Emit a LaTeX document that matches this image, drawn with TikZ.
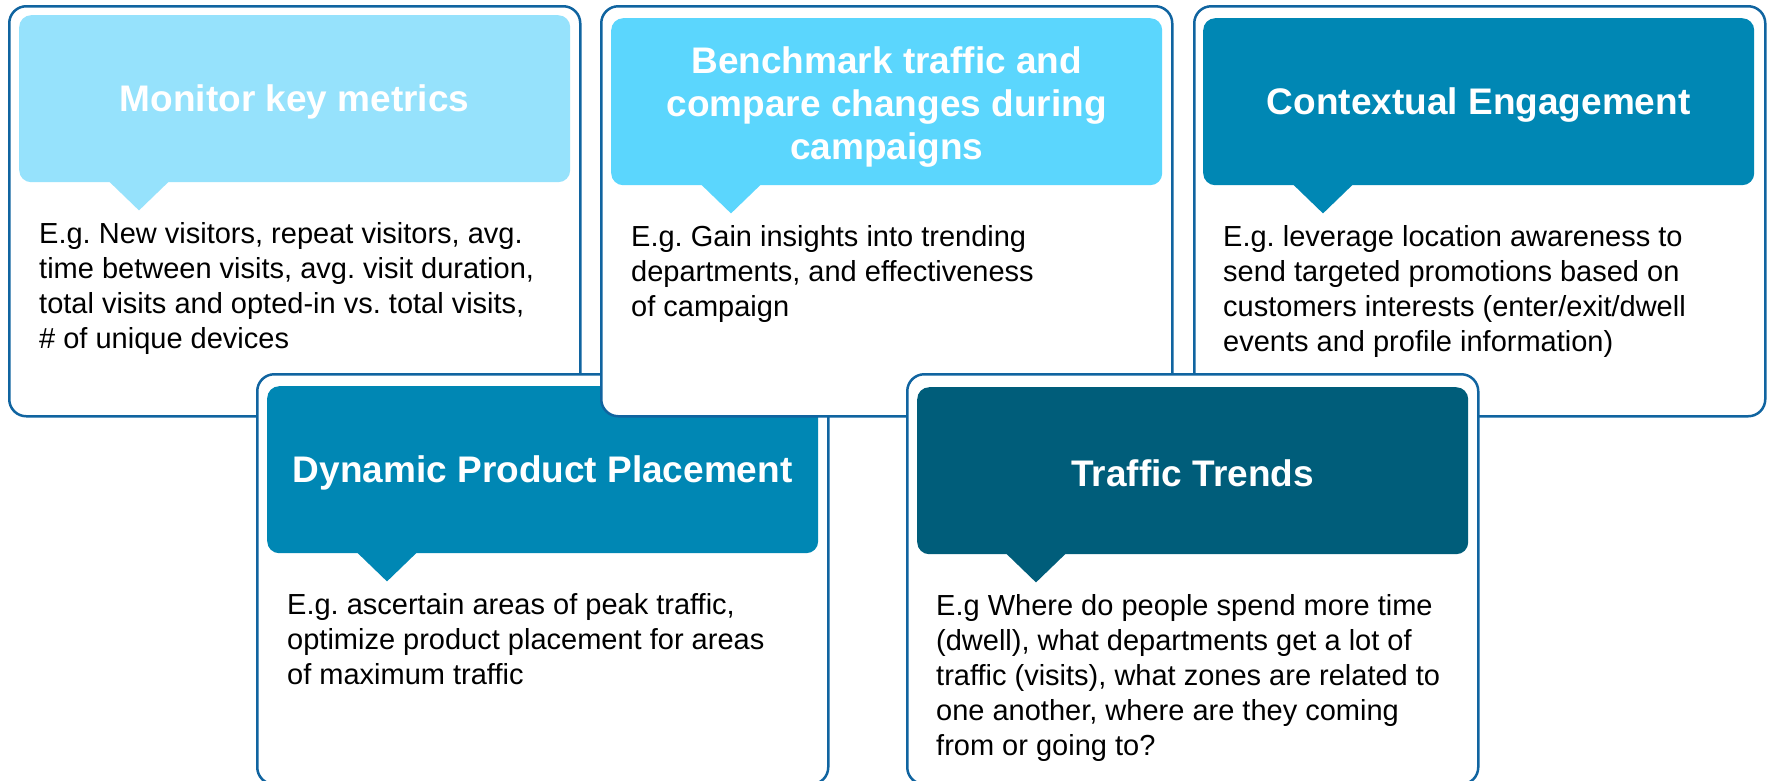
\documentclass[tikz,border=0pt]{standalone}
\usepackage{fontspec}
\setmainfont{Liberation Sans}
\frenchspacing
\definecolor{edgeblue}{RGB}{16,100,160}
\definecolor{skyA}{RGB}{150,226,252}
\definecolor{skyB}{RGB}{91,214,253}
\definecolor{tealC}{RGB}{0,135,180}
\definecolor{navyD}{RGB}{0,93,122}
\tikzset{
	card/.style={anchor=north west, draw=edgeblue, line width=2.5pt, fill=white,
		rounded corners=17pt, minimum width=571pt, minimum height=410pt, inner sep=0pt},
	head/.style={anchor=north west, rounded corners=12pt, minimum width=551pt,
		minimum height=167pt, inner sep=0pt},
	title/.style={inner sep=0pt, text=white, align=center,
		font=\bfseries\fontsize{37}{43}\selectfont},
	body/.style={anchor=north west, inner sep=0pt, align=left,
		font=\fontsize{29}{35}\selectfont},
}
\begin{document}
\begin{tikzpicture}[x=1pt, y=-1pt]
	\useasboundingbox (0,0) rectangle (1767,780);

	% monitor
	\node[card] (c1) at (8,5) {};
	\node[head, fill=skyA] (h1) at ([xshift=11pt,yshift=-10pt]c1.north west) {};
	\node[title] (t1) at ([yshift=-3pt]h1.center) {Monitor key metrics};
	\coordinate (p1) at ([xshift=120pt]h1.south west);
	\fill[skyA] (p1) ++(-30pt,1pt) -- ++(60pt,0) -- ++(-30pt,-29pt) -- cycle;
	\node[body] (b1) at ([xshift=20pt,yshift=-36.5pt]h1.south west)
		{\strut E.g. New visitors, repeat visitors, avg.\\time between visits, avg. visit duration,\\total visits and opted-in vs. total visits,\\\# of unique devices};

	% product placement
	\node[card] (c4) at (256,373) {};
	\node[head, fill=tealC] (h4) at ([xshift=11pt,yshift=-13pt]c4.north west) {};
	\node[title] (t4) at ([yshift=-3pt]h4.center) {Dynamic Product Placement};
	\coordinate (p4) at ([xshift=120pt]h4.south west);
	\fill[tealC] (p4) ++(-30pt,1pt) -- ++(60pt,0) -- ++(-30pt,-29pt) -- cycle;
	\node[body] (b4) at ([xshift=20pt,yshift=-36.5pt]h4.south west)
		{\strut E.g. ascertain areas of peak traffic,\\optimize product placement for areas\\of maximum traffic};

	% benchmark
	\node[card] (c2) at (600,5) {};
	\node[head, fill=skyB] (h2) at ([xshift=11pt,yshift=-13pt]c2.north west) {};
	\node[title] (t2) at ([yshift=-5pt]h2.center) {Benchmark traffic and\\compare changes during\\campaigns};
	\coordinate (p2) at ([xshift=120pt]h2.south west);
	\fill[skyB] (p2) ++(-30pt,1pt) -- ++(60pt,0) -- ++(-30pt,-29pt) -- cycle;
	\node[body] (b2) at ([xshift=20pt,yshift=-36.5pt]h2.south west)
		{\strut E.g. Gain insights into trending\\departments, and effectiveness\\of campaign};

	% engagement
	\node[card] (c3) at (1193,5) {};
	\node[head, fill=tealC] (h3) at ([xshift=10pt,yshift=-13pt]c3.north west) {};
	\node[title] (t3) at ([yshift=-3pt]h3.center) {Contextual Engagement};
	\coordinate (p3) at ([xshift=120pt]h3.south west);
	\fill[tealC] (p3) ++(-30pt,1pt) -- ++(60pt,0) -- ++(-30pt,-29pt) -- cycle;
	\node[body] (b3) at ([xshift=20pt,yshift=-36.5pt]h3.south west)
		{\strut E.g. leverage location awareness to\\send targeted promotions based on\\customers interests (enter/exit/dwell\\events and profile information)};

	% trends
	\node[card] (c5) at (906,373) {};
	\node[head, fill=navyD] (h5) at ([xshift=11pt,yshift=-14pt]c5.north west) {};
	\node[title] (t5) at ([yshift=-3pt]h5.center) {Traffic Trends};
	\coordinate (p5) at ([xshift=119pt]h5.south west);
	\fill[navyD] (p5) ++(-30pt,1pt) -- ++(60pt,0) -- ++(-30pt,-29pt) -- cycle;
	\node[body] (b5) at ([xshift=19pt,yshift=-36.5pt]h5.south west)
		{\strut E.g Where do people spend more time\\(dwell), what departments get a lot of\\traffic (visits), what zones are related to\\one another, where are they coming\\from or going to?};
\end{tikzpicture}
\end{document}
